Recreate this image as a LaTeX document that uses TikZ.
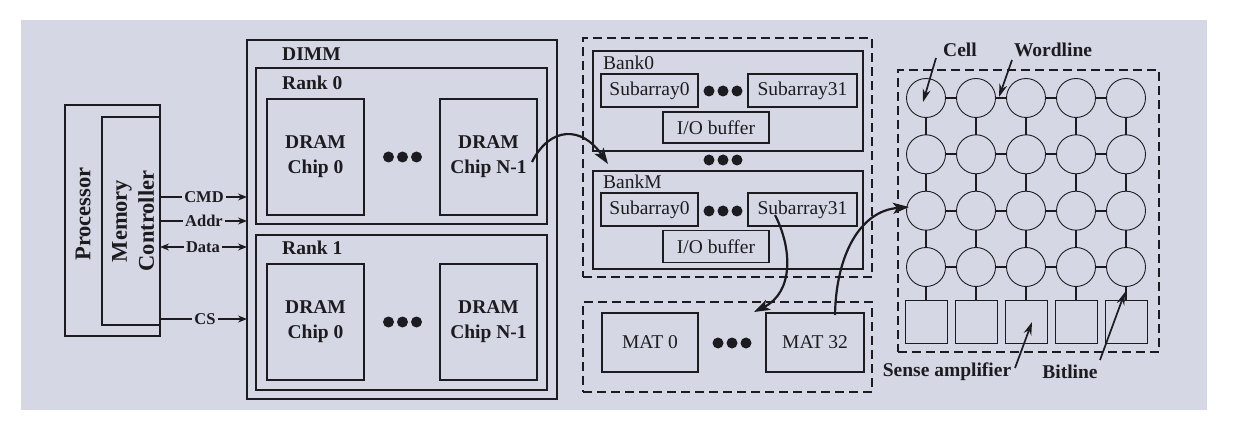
\documentclass[tikz,border=0pt]{standalone}
\usepackage{fontspec}
\setmainfont{Liberation Serif}
\usetikzlibrary{arrows.meta,calc}
\definecolor{bg}{RGB}{213,215,228}
\definecolor{ink}{RGB}{28,28,32}
\begin{document}
\begin{tikzpicture}[x=1pt,y=-1pt,
  box/.style={draw=ink, line width=1.5pt, inner sep=0pt, outer sep=0pt},
  dbox/.style={draw=ink, line width=1.6pt, dash pattern=on 9pt off 5pt, inner sep=0pt, outer sep=0pt},
  txt/.style={text=ink, inner sep=0pt, font=\fontsize{19.5}{24}\selectfont},
  btxt/.style={text=ink, inner sep=0pt, font=\fontsize{19.5}{25}\selectfont\bfseries},
  ptxt/.style={text=ink, inner sep=0pt, font=\fontsize{22.5}{27}\selectfont\bfseries},
  sig/.style={text=ink, inner sep=2pt, font=\fontsize{16.5}{18}\selectfont\bfseries},
  chip/.style={box, btxt, align=center, minimum width=97pt, minimum height=116pt},
  sub/.style={box, txt, minimum height=33pt},
  cell/.style={circle, draw=ink, line width=0.9pt, minimum size=39pt, inner sep=0pt, outer sep=0pt},
  samp/.style={rectangle, draw=ink, line width=0.9pt, minimum width=42pt, minimum height=43pt, inner sep=0pt, outer sep=0pt},
  wire/.style={draw=ink, line width=1.7pt},
  sline/.style={draw=ink, line width=1.4pt},
  arr/.style={draw=ink, line width=1.4pt, -{Stealth[length=9pt,width=7pt]}},
  larr/.style={draw=ink, line width=1.7pt, -{Stealth[length=13pt,width=8pt]}},
  bigarr/.style={draw=ink, line width=2.2pt, -{Stealth[length=16pt,width=11pt,inset=4pt]}},
]
\path[use as bounding box] (0,0) rectangle (1239,422);
\fill[bg] (21,20) rectangle (1207,410);

% Processor / memory controller
\node[box, minimum width=95pt, minimum height=231pt] (proc) at (112.5,220.5) {};
\node[box, minimum width=58pt, minimum height=208pt] (mc) at (131,221) {};
\node[ptxt, rotate=90] (proct) at (83,214) {Processor};
\node[ptxt, rotate=90, align=center] (mct) at (133,221) {Memory\\Controller};

% DIMM
\node[box, minimum width=310pt, minimum height=359pt] (dimm) at (402,219.5) {};
\node[btxt, anchor=west] (dimmt) at (282,54) {DIMM};
\node[box, minimum width=291pt, minimum height=156pt] (rank0) at (401.5,146) {};
\node[btxt, anchor=west] (rank0t) at (282,83) {Rank 0};
\node[chip] (chip00) at (315.5,157) {DRAM\\Chip 0};
\node[chip] (chip0n) at (488.5,157) {DRAM\\Chip N-1};
\node[box, minimum width=291pt, minimum height=155pt] (rank1) at (401.5,312.5) {};
\node[btxt, anchor=west] (rank1t) at (282,248) {Rank 1};
\node[chip] (chip10) at (315.5,322) {DRAM\\Chip 0};
\node[chip] (chip1n) at (488.5,322) {DRAM\\Chip N-1};

% signals
\node[sig] (cmd) at (204,197) {CMD};
\node[sig] (addr) at (204,221) {Addr};
\node[sig] (data) at (203,247) {Data};
\node[sig] (cs) at (205,319) {CS};
\draw[sline] (cmd.west -| mc.east) -- (cmd.west);
\draw[arr] (cmd.east) -- (cmd.east -| dimm.west);
\draw[sline] (addr.west -| mc.east) -- (addr.west);
\draw[arr] (addr.east) -- (addr.east -| dimm.west);
\draw[arr] (data.west) -- (data.west -| mc.east);
\draw[arr] (data.east) -- (data.east -| dimm.west);
\draw[sline] (cs.west -| mc.east) -- (cs.west);
\draw[arr] (cs.east) -- (cs.east -| dimm.west);

% Banks
\node[dbox, minimum width=289pt, minimum height=239pt] (bankgrp) at (727.5,157.5) {};
\node[box, minimum width=270pt, minimum height=100pt] (bank0) at (728,101) {};
\node[txt, anchor=west] (bank0t) at (603,63) {Bank0};
\node[sub, minimum width=97pt] (sub00) at (649.5,90.5) {Subarray0};
\node[sub, minimum width=109pt] (sub031) at (802.5,90.5) {Subarray31};
\node[sub, minimum width=106pt, minimum height=31pt] (io0) at (716,127.5) {I/O buffer};
\node[box, minimum width=270pt, minimum height=98pt] (bankm) at (728,220) {};
\node[txt, anchor=west] (bankmt) at (603,182) {BankM};
\node[sub, minimum width=97pt] (subm0) at (649.5,209.5) {Subarray0};
\node[sub, minimum width=109pt] (subm31) at (802.5,209.5) {Subarray31};
\node[sub, minimum width=106pt, minimum height=32pt] (iom) at (716,246.5) {I/O buffer};

% MATs
\node[dbox, minimum width=289pt, minimum height=90pt] (matgrp) at (727.5,347) {};
\node[sub, minimum width=96pt, minimum height=59pt] (mat0) at (650,342.5) {MAT 0};
\node[sub, minimum width=98pt, minimum height=59pt] (mat32) at (815,342.5) {MAT 32};

% dots
\foreach \cx/\cy in {402.5/157, 402.5/322, 723/91, 723/160, 723/211, 732/343}
  \foreach \dx in {-14,0,14}
    \fill[ink] (\cx+\dx,\cy) circle (5.5pt);

% cell array
\node[dbox, minimum width=261pt, minimum height=282pt] (cellgrp) at (1028.5,211) {};
\foreach \i/\x in {1/926,2/976,3/1026,4/1076,5/1126} {
  \foreach \j/\y in {1/98,2/154.3,3/210.7,4/267}
    \node[cell] (c\i\j) at (\x,\y) {};
  \node[samp] (sa\i) at (\x,321.5) {};
}
\foreach \j in {1,2,3,4}
  \foreach \a/\b in {1/2,2/3,3/4,4/5}
    \draw[wire] (c\a\j.east) -- (c\b\j.west);
\foreach \i in {1,...,5} {
  \foreach \a/\b in {1/2,2/3,3/4}
    \draw[wire] (c\i\a.south) -- (c\i\b.north);
  \draw[wire] (c\i4.south) -- (sa\i.north);
}

% annotation labels
\node[btxt] (celllab) at (960,50) {Cell};
\node[btxt] (wordlab) at (1053,50) {Wordline};
\node[btxt] (salab) at (947,372) {Sense amplifier};
\node[btxt] (bitlab) at (1070,372) {Bitline};
\coordinate (cellp) at (923,102);
\coordinate (wordp) at (999,97);
\coordinate (sap) at (1032,322);
\coordinate (bitp) at (1125,292);
\draw[larr] (936,58) -- (cellp);
\draw[larr] (1012,60) -- (wordp);
\draw[larr] (1015,368) -- (sap);
\draw[larr] (1100,360) -- (bitp);

% big curved arrows
\coordinate (a1s) at (532,162);
\coordinate (a1e) at (608,164);
\coordinate (a2s) at (775,215);
\coordinate (a2e) at (754,312);
\coordinate (a3s) at (835,315);
\coordinate (a3e) at (909,207);
\draw[bigarr] (a1s) .. controls (550,126) and (582,126) .. (a1e);
\draw[bigarr] (a2s) .. controls (792,248) and (794,292) .. (a2e);
\draw[bigarr] (a3s) .. controls (836,255) and (860,211) .. (a3e);
\end{tikzpicture}
\end{document}
